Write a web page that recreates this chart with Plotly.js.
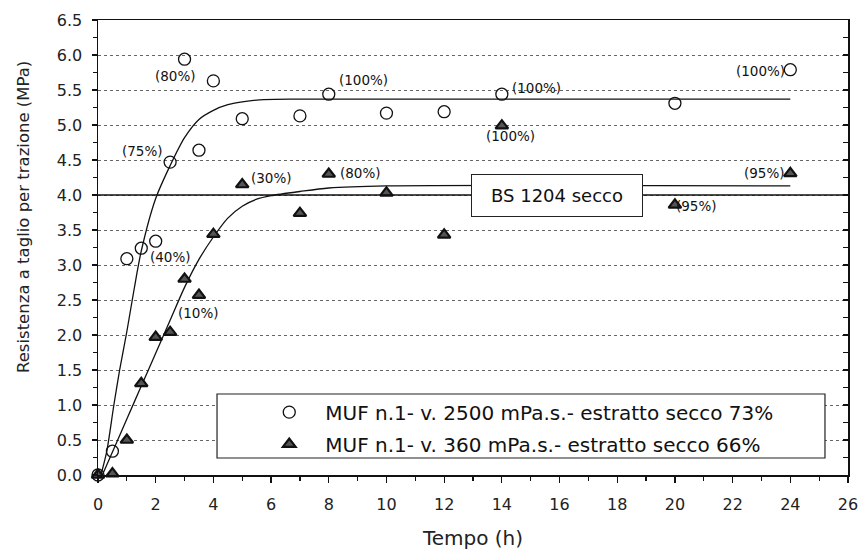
<!DOCTYPE html>
<html>
<head>
<meta charset="utf-8">
<script src="https://cdn.plot.ly/plotly-3.0.1.min.js"></script>
<style>html,body{margin:0;padding:0;background:#fff;}</style>
</head>
<body>
<div id="chart" style="width:861px;height:553px;"></div>
<script>
// ---- Data ----
const seriesNames = [
  "MUF n.1- v. 2500 mPa.s.- estratto secco 73%",
  "MUF n.1- v. 360 mPa.s.- estratto secco 66%"
];
// Series 1 (circles)
const timeA = [0, 0.5, 1, 1.5, 2, 2.5, 3, 3.5, 4, 5, 7, 8, 10, 12, 14, 20, 24];
const strengthA = [0, 0.34, 3.09, 3.24, 3.34, 4.47, 5.94, 4.64, 5.63, 5.09, 5.13, 5.44, 5.17, 5.19, 5.44, 5.31, 5.79];
// Series 2 (triangles)
const timeB = [0, 0.5, 1, 1.5, 2, 2.5, 3, 3.5, 4, 5, 7, 8, 10, 12, 14, 20, 24];
const strengthB = [0, 0.02, 0.5, 1.31, 1.97, 2.04, 2.8, 2.57, 3.44, 4.15, 3.74, 4.3, 4.03, 3.43, 4.99, 3.86, 4.31];
// Fitted curves
const curveAx = [0.1, 0.3, 0.55, 0.75, 1.0, 1.25, 1.5, 2.0, 2.5, 3.0, 3.5, 4.0, 4.5, 5.0, 5.6, 7, 24];
const curveAy = [0, 0.33, 1.0, 1.5, 2.05, 2.65, 3.2, 3.95, 4.42, 4.82, 5.08, 5.21, 5.29, 5.33, 5.36, 5.37, 5.37];
const curveBx = [0.15, 0.6, 1.0, 1.5, 2.0, 2.5, 3.0, 3.5, 4.0, 4.5, 5.0, 5.5, 6.0, 7.0, 8.0, 10, 24];
const curveBy = [0, 0.42, 0.8, 1.27, 1.74, 2.21, 2.68, 3.08, 3.4, 3.67, 3.84, 3.94, 3.99, 4.05, 4.1, 4.13, 4.13];
// Reference level
const bsLabel = "BS 1204 secco";
const bsLevel = 4.0;
// Point labels (wood failure percentages)
const labelText = ["(80%)", "(100%)", "(75%)", "(30%)", "(80%)", "(40%)", "(10%)", "(100%)", "(100%)", "(100%)", "(95%)", "(95%)"];
const labelX = [2.7, 9.2, 1.55, 6.0, 9.1, 2.5, 3.5, 15.2, 14.3, 22.95, 23.1, 20.75];
const labelY = [5.7, 5.64, 4.63, 4.24, 4.31, 3.11, 2.31, 5.53, 4.84, 5.77, 4.31, 3.84];
// Axis texts
const xTitle = "Tempo (h)";
const yTitle = "Resistenza a taglio per trazione (MPa)";

const FONT = "DejaVu Sans, Arial, sans-serif";

const traces = [
  {
    x: curveAx, y: curveAy, mode: "lines", showlegend: false, hoverinfo: "skip",
    line: {color: "#111", width: 1.3, shape: "spline", smoothing: 0.8}
  },
  {
    x: curveBx, y: curveBy, mode: "lines", showlegend: false, hoverinfo: "skip",
    line: {color: "#111", width: 1.3, shape: "spline", smoothing: 0.8}
  },
  {
    x: timeA, y: strengthA, mode: "markers", name: seriesNames[0], legendgroup: "a",
    cliponaxis: false,
    marker: {symbol: "circle-open", size: 12, color: "#111", line: {width: 1.3, color: "#111"}}
  },
  {
    x: timeB, y: strengthB, mode: "markers", name: seriesNames[1], legendgroup: "b",
    cliponaxis: false,
    marker: {symbol: "triangle-up", size: 11, color: "#555", line: {width: 2.2, color: "#111"}}
  },
  {
    x: [0], y: [0], yaxis: "y2", mode: "markers", showlegend: false, hoverinfo: "skip",
    marker: {opacity: 0}
  }
];

const annotations = labelText.map((t, i) => ({
  x: labelX[i], y: labelY[i], xref: "x", yref: "y", text: t, showarrow: false,
  font: {family: FONT, size: 13.5, color: "#111"}
}));
annotations.push({
  x: 15.9, y: bsLevel, xref: "x", yref: "y", text: bsLabel, showarrow: false,
  font: {family: FONT, size: 18, color: "#111"},
  bgcolor: "#fff", bordercolor: "#222", borderwidth: 1, borderpad: 5,
  width: 160, height: 31
});
annotations.push({
  x: -0.1, y: 0.567, xref: "paper", yref: "paper", text: yTitle, showarrow: false,
  textangle: -90, xanchor: "center", yanchor: "middle",
  font: {family: FONT, size: 16.5, color: "#222"}
});

const layout = {
  width: 861, height: 553,
  margin: {l: 98, r: 13, t: 20, b: 78},
  paper_bgcolor: "#fff", plot_bgcolor: "#fff",
  font: {family: FONT, color: "#111"},
  showlegend: true,
  legend: {
    x: 0.207, y: 0.181, xanchor: "left", yanchor: "top",
    bgcolor: "rgba(0,0,0,0)", borderwidth: 0,
    font: {family: FONT, size: 20, color: "#111"},
    itemwidth: 62, tracegroupgap: 3, traceorder: "grouped"
  },
  xaxis: {
    range: [0, 26], dtick: 2, tick0: 0,
    showline: true, linecolor: "#111", linewidth: 1.5, mirror: true,
    ticks: "outside", ticklen: 6, tickwidth: 1.2, tickcolor: "#111",
    minor: {dtick: 1, ticks: "outside", ticklen: 4, tickcolor: "#111", showgrid: false},
    showgrid: false, zeroline: false,
    ticklabelstandoff: 8,
    tickfont: {family: FONT, size: 16, color: "#222"},
    title: {text: xTitle, font: {family: FONT, size: 20, color: "#222"}, standoff: 18}
  },
  yaxis: {
    range: [0, 6.5], dtick: 0.5, tick0: 0, tickformat: ".1f",
    showline: true, linecolor: "#111", linewidth: 1.5, mirror: true,
    ticks: "outside", ticklen: 5, tickwidth: 1.2, tickcolor: "#111",
    minor: {dtick: 0.25, ticks: "outside", ticklen: 4, tickcolor: "#111", showgrid: false},
    showgrid: true, gridcolor: "#666", griddash: "dot", gridwidth: 1,
    zeroline: false,
    ticklabelstandoff: 6,
    tickfont: {family: FONT, size: 16, color: "#222"}
  },
  yaxis2: {
    overlaying: "y", side: "right", range: [0, 6.5], dtick: 0.25,
    ticks: "inside", ticklen: 5, tickwidth: 1.2, tickcolor: "#111",
    showticklabels: false, showgrid: false, zeroline: false, showline: false
  },
  shapes: [
    {type: "line", xref: "paper", x0: 0, x1: 1, yref: "y", y0: bsLevel, y1: bsLevel,
     line: {color: "#111", width: 1.5}, layer: "above"},
    {type: "rect", xref: "paper", yref: "paper", x0: 0.1587, x1: 0.9693, y0: 0.0374, y1: 0.178,
     fillcolor: "#fff", line: {color: "#222", width: 1.2}, layer: "above"}
  ],
  annotations: annotations
};

Plotly.newPlot("chart", traces, layout, {displayModeBar: false, staticPlot: true});
</script>
</body>
</html>
